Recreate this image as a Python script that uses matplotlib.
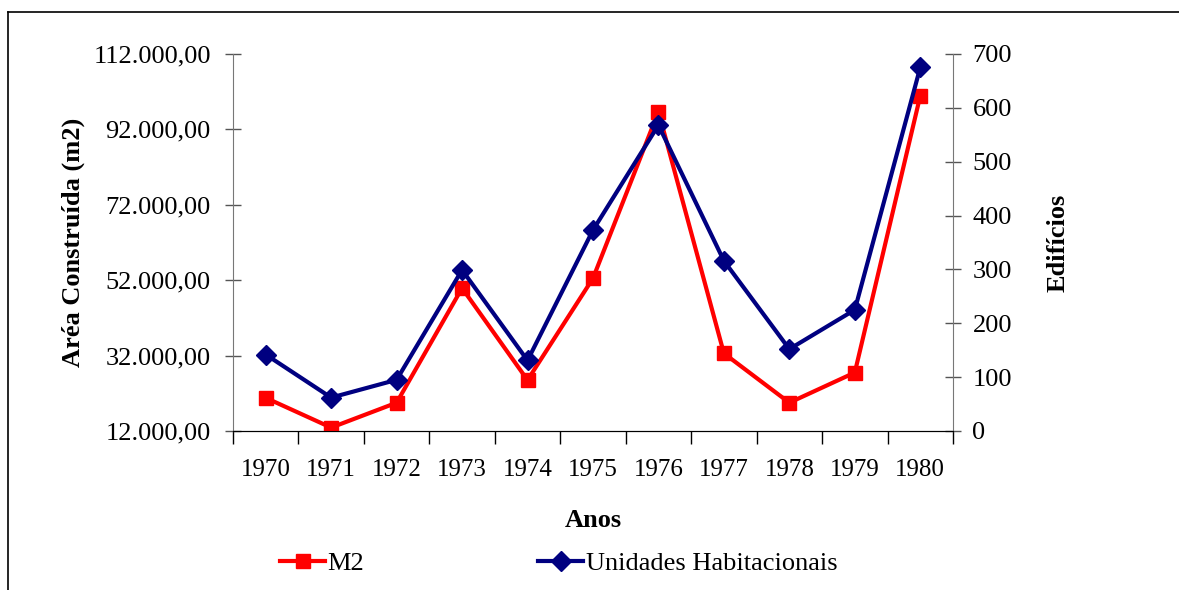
import matplotlib.pyplot as plt
from matplotlib.lines import Line2D
import numpy as np

anos = ['1970', '1971', '1972', '1973', '1974', '1975', '1976', '1977', '1978', '1979', '1980']
m2 = [20800, 12900, 19500, 49900, 25500, 52500, 96700, 32600, 19500, 27500, 100900]
unidades = [142, 62, 95, 299, 131, 373, 568, 316, 152, 225, 675]
left_ticks = [12000, 32000, 52000, 72000, 92000, 112000]
left_labels = ['12.000,00', '32.000,00', '52.000,00', '72.000,00', '92.000,00', '112.000,00']
right_ticks = [0, 100, 200, 300, 400, 500, 600, 700]

plt.rcParams['font.family'] = 'Liberation Serif'
plt.rcParams['font.size'] = 19

fig = plt.figure(figsize=(11.79, 5.90), dpi=100)
ax = fig.add_axes([0.1976, 0.2695, 0.6107, 0.639])
ax2 = ax.twinx()

x = np.arange(len(anos))
l1, = ax.plot(x, m2, color='#FF0000', lw=3, marker='s', ms=10.5, label='M2', zorder=3)
l2, = ax2.plot(x, unidades, color='#000080', lw=3, marker='D', ms=10, label='Unidades Habitacionais', zorder=4)

ax.set_xlim(-0.5, len(anos) - 0.5)
ax.set_ylim(12000, 112000)
ax2.set_ylim(0, 700)

ax.set_xticks(np.arange(-0.5, len(anos), 1))
ax.set_xticklabels([])
ax.set_xticks(x, minor=True)
ax.set_xticklabels(anos, minor=True, fontsize=18)
ax.tick_params(axis='x', which='major', direction='out', length=9, width=1, color='black')
ax.tick_params(axis='x', which='minor', length=0, pad=20)

ax.set_yticks(left_ticks)
ax.set_yticklabels(left_labels)
ax.tick_params(axis='y', direction='inout', length=12, width=1, color='#555555', pad=10)
ax2.set_yticks(right_ticks)
ax2.tick_params(axis='y', direction='inout', length=12, width=1, color='#555555', pad=8)

for a in (ax, ax2):
    a.spines['top'].set_visible(False)
    a.spines['left'].set_color('#777777')
    a.spines['right'].set_color('#777777')
    a.spines['bottom'].set_color('black')
ax2.spines['left'].set_visible(False)
ax.spines['right'].set_visible(False)

ax.set_ylabel('Aréa Construída (m2)', fontweight='bold', labelpad=6)
ax2.set_ylabel('Edifícios', fontweight='bold', labelpad=25)
ax.set_xlabel('Anos', fontweight='bold', labelpad=20)

fig.legend(handles=[l1, l2], loc='center', bbox_to_anchor=(0.474, 0.045), ncol=2,
           frameon=False, handlelength=1.7, columnspacing=6.6, handletextpad=0.1,
           fontsize=19)

# outer chart frame
fig.add_artist(Line2D([8 / 1179, 1.0], [1 - 12 / 590, 1 - 12 / 590], color='black', lw=1.2))
fig.add_artist(Line2D([8 / 1179, 8 / 1179], [0.0, 1 - 12 / 590], color='black', lw=1.2))

fig.savefig('out.png', dpi=100)
